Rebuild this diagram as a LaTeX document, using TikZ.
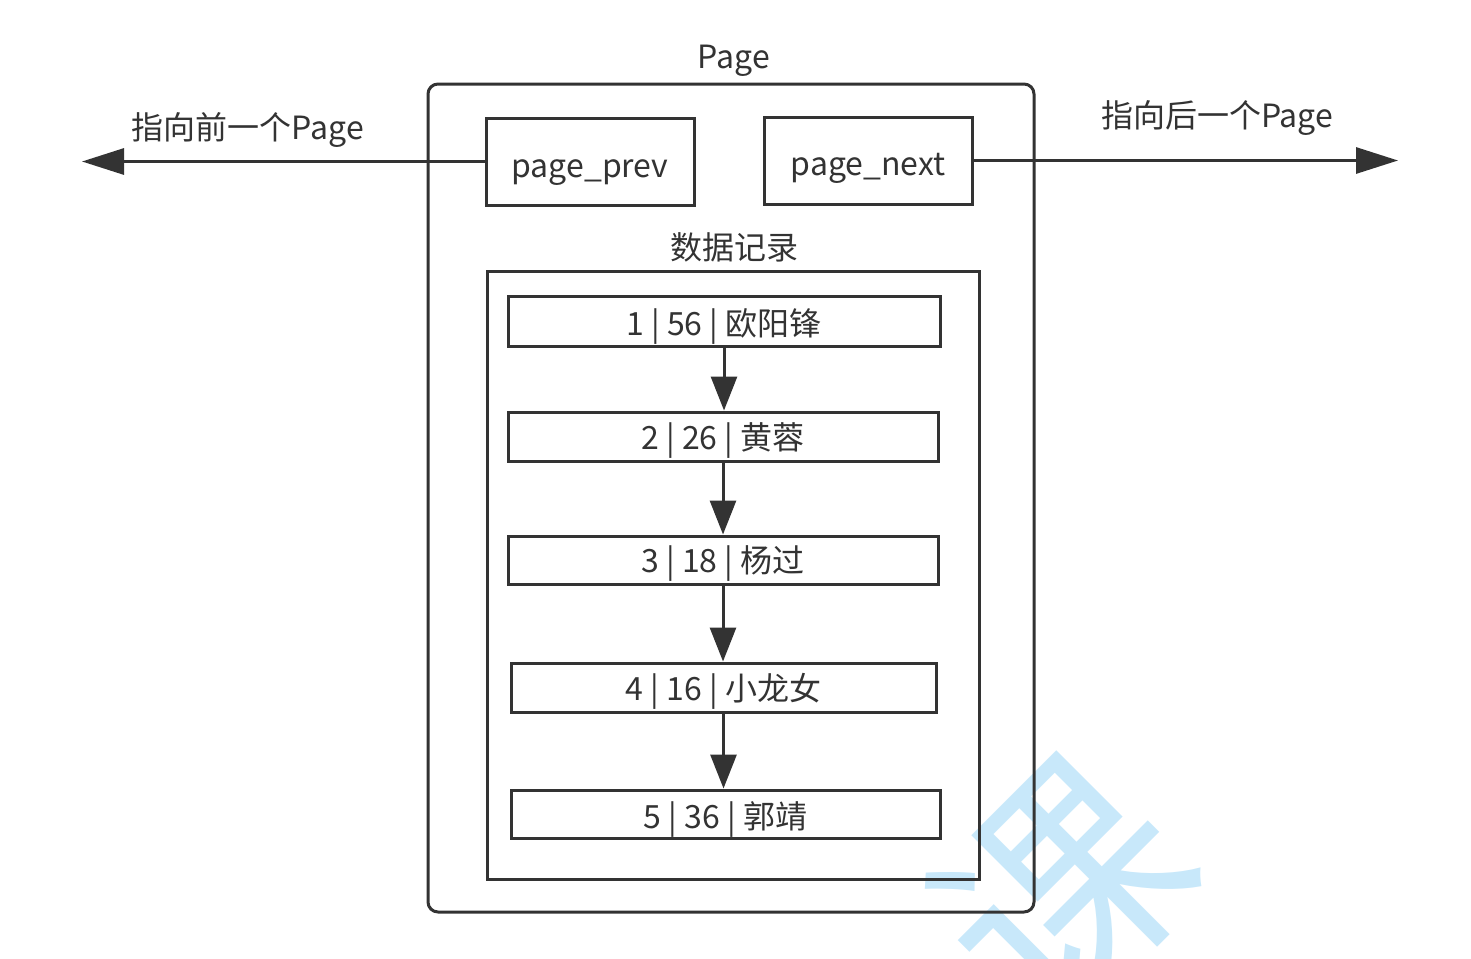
\documentclass[tikz,border=0pt]{standalone}
\usepackage{fontspec}
\setmainfont{Noto Sans CJK SC}
\usetikzlibrary{arrows.meta}
\definecolor{ink}{HTML}{333333}
\definecolor{wm}{RGB}{200,232,250}
\begin{document}
\begin{tikzpicture}[x=0.5pt,y=-0.5pt,
  box/.style={draw=ink,line width=1.5pt,inner sep=0pt},
  lbl/.style={text=ink,font=\fontsize{16}{19}\selectfont,inner sep=0pt},
  varr/.style={draw=ink,line width=1.5pt,-{Triangle[length=17pt,width=13pt]}},
  harr/.style={draw=ink,line width=1.5pt,-{Triangle[length=21pt,width=13pt]}}]
\useasboundingbox (0,0) rectangle (1471,958);
\begin{scope}
\clip (0,0) rectangle (1471,958);
\node[text=wm,font=\fontsize{120}{120}\selectfont,rotate=45,inner sep=0pt] (wmark) at (1062,890) {课};
\end{scope}
% outer page
\node[box,rounded corners=5pt,minimum width=303pt,minimum height=414pt] (page) at (731,498) {};
\node[lbl] (pagelbl) at (734,61) {Page};
% pointers
\node[box,minimum width=104pt,minimum height=43.5pt,label={[lbl,yshift=-5.5pt]center:page\_prev}] (prev) at (590,161.5) {};
\node[box,minimum width=104pt,minimum height=43.5pt,label={[lbl,yshift=-4pt]center:page\_next}] (next) at (868,160.5) {};
\coordinate (lend) at (82,160);
\coordinate (rend) at (1398,160);
\draw[harr] (prev.west) -- (prev.west -| lend);
\draw[harr] (next.east) -- (next.east -| rend);
\node[lbl] (prevlbl) at (248,130) {指向前一个Page};
\node[lbl] (nextlbl) at (1217,118) {指向后一个Page};
% records
\node[lbl] (datalbl) at (734,247) {数据记录};
\node[box,minimum width=246pt,minimum height=304pt] (data) at (733,575) {};
\node[box,minimum width=216pt,minimum height=25pt,label={[lbl,yshift=-2.5pt]center:1 | 56 | 欧阳锋}] (r1) at (724,321) {};
\node[box,minimum width=215pt,minimum height=24.5pt,label={[lbl,yshift=-2pt]center:2 | 26 | 黄蓉}] (r2) at (723,436.5) {};
\node[box,minimum width=215pt,minimum height=24pt,label={[lbl,yshift=-2pt]center:3 | 18 | 杨过}] (r3) at (723,560) {};
\node[box,minimum width=212.5pt,minimum height=24.5pt,label={[lbl,yshift=-2pt]center:4 | 16 | 小龙女}] (r4) at (723.5,687.5) {};
\node[box,minimum width=214.5pt,minimum height=24pt,label={[lbl,yshift=-2.5pt]center:5 | 36 | 郭靖}] (r5) at (725.5,814) {};
\draw[varr] (r1.south) -- (r1.south |- r2.north);
\draw[varr] (r2.south) -- (r2.south |- r3.north);
\draw[varr] (r3.south) -- (r3.south |- r4.north);
\draw[varr] (r4.south) -- (r4.south |- r5.north);
\end{tikzpicture}
\end{document}
